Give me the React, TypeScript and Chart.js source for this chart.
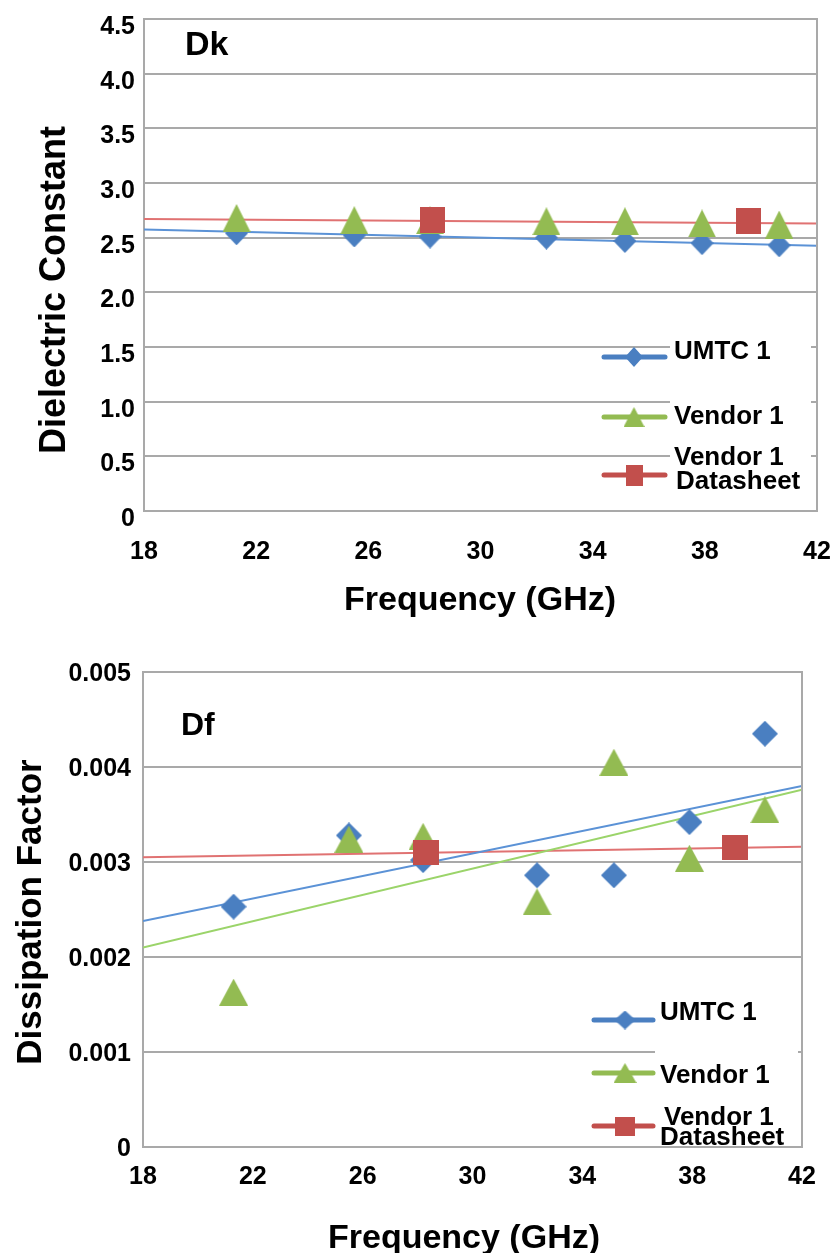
import React, { useEffect, useRef } from 'react';
import { Chart, registerables } from 'chart.js';

Chart.register(...registerables);

const FONT = '"Liberation Sans", Arial, Helvetica, sans-serif';
Chart.defaults.font.family = FONT;

// ---------- data ----------
const frequencyGHz = [21.3, 25.5, 28.2, 32.35, 35.15, 37.9, 40.65];
const datasheetFrequencyGHz = [28.3, 39.55];
const trendFrequencyGHz = [18, 42];

const dkUmtc1 = [2.54, 2.52, 2.51, 2.5, 2.47, 2.45, 2.43];
const dkVendor1 = [2.68, 2.66, 2.66, 2.65, 2.65, 2.63, 2.62];
const dkDatasheet = [2.66, 2.65];
const dkTrendUmtc1 = [2.575, 2.425];
const dkTrendDatasheet = [2.67, 2.63];

const dfUmtc1 = [0.00253, 0.00328, 0.00302, 0.00286, 0.00286, 0.00342, 0.00435];
const dfVendor1 = [0.00163, 0.00324, 0.00327, 0.00258, 0.00405, 0.00304, 0.00355];
const dfDatasheet = [0.0031, 0.00315];
const dfTrendUmtc1 = [0.00238, 0.0038];
const dfTrendVendor1 = [0.0021, 0.00376];
const dfTrendDatasheet = [0.00305, 0.00316];

const xTickValues = [18, 22, 26, 30, 34, 38, 42];
const xTickLabels = ['18', '22', '26', '30', '34', '38', '42'];
const dkTickValues = [0, 0.5, 1, 1.5, 2, 2.5, 3, 3.5, 4, 4.5];
const dkTickLabels = ['0', '0.5', '1.0', '1.5', '2.0', '2.5', '3.0', '3.5', '4.0', '4.5'];
const dfTickValues = [0, 0.001, 0.002, 0.003, 0.004, 0.005];
const dfTickLabels = ['0', '0.001', '0.002', '0.003', '0.004', '0.005'];

const legendLabels = [['UMTC 1'], ['Vendor 1'], ['Vendor 1', 'Datasheet']];
const seriesNames = ['UMTC 1', 'Vendor 1', 'Vendor 1 Datasheet'];

// ---------- styles ----------
const GRID = '#a9a9a9';
const BLUE = '#4a7fc1';
const GREEN = '#93bb52';
const RED = '#c24f4c';
const BLUE_LINE = '#5b92d6';
const GREEN_LINE = '#9bd46a';
const RED_LINE = '#e07272';

type Shape = 'diamond' | 'triangle' | 'square';

function makeMarker(shape: Shape, w: number, h: number, color: string): HTMLCanvasElement {
  const c = document.createElement('canvas');
  c.width = w;
  c.height = h;
  const ctx = c.getContext('2d')!;
  ctx.fillStyle = color;
  ctx.beginPath();
  if (shape === 'diamond') {
    ctx.moveTo(w / 2, 0);
    ctx.lineTo(w, h / 2);
    ctx.lineTo(w / 2, h);
    ctx.lineTo(0, h / 2);
  } else if (shape === 'triangle') {
    ctx.moveTo(w / 2, 0);
    ctx.lineTo(w, h);
    ctx.lineTo(0, h);
  } else {
    ctx.rect(0, 0, w, h);
  }
  ctx.closePath();
  ctx.fill();
  return c;
}

const pts = (xs: number[], ys: number[]) => xs.map((x, i) => ({ x, y: ys[i] }));

interface PanelSpec {
  top: number;
  height: number;
  padTop: number;
  padRight: number;
  yWidth: number;
  xHeight: number;
  yMax: number;
  yTickValues: number[];
  yTickLabels: string[];
  yTickSize: number;
  yTickPad: number;
  yLabelOffset: number;
  xTickPad: number;
  markers: { diamond: [number, number]; triangle: [number, number]; square: [number, number] };
  umtc: number[];
  vendor: number[];
  datasheet: number[];
  trends: { values: number[]; color: string }[];
  label: { text: string; x: number; y: number; size: number };
  yTitle: { text: string; x: number; y: number; size: number };
  xTitle: { text: string; x: number; y: number; size: number };
  box: { x: number; y: number; w: number; h: number };
  legend: {
    lineX0: number;
    lineX1: number;
    markerX: number;
    size: number;
    rows: { lineY: number; textX: number[]; textY: number[] }[];
    markerSizes: [number, number][];
  };
}

function makeOverlay(spec: PanelSpec) {
  const colors = [BLUE, GREEN, RED];
  const shapes: Shape[] = ['diamond', 'triangle', 'square'];
  const legendMarkers = shapes.map((s, i) =>
    makeMarker(s, spec.legend.markerSizes[i][0], spec.legend.markerSizes[i][1], colors[i])
  );
  return {
    id: 'overlay',
    afterDraw(chart: any) {
      const ctx: CanvasRenderingContext2D = chart.ctx;
      const a = chart.chartArea;
      ctx.save();
      // legend background
      ctx.fillStyle = '#ffffff';
      ctx.fillRect(spec.box.x, spec.box.y, spec.box.w, spec.box.h);
      // right border of plot area
      ctx.strokeStyle = GRID;
      ctx.lineWidth = 2;
      ctx.beginPath();
      ctx.moveTo(a.right, a.top - 1);
      ctx.lineTo(a.right, a.bottom + 1);
      ctx.stroke();
      // legend
      const lg = spec.legend;
      lg.rows.forEach((r, i) => {
        ctx.strokeStyle = colors[i];
        ctx.lineWidth = 5;
        ctx.lineCap = 'round';
        ctx.beginPath();
        ctx.moveTo(lg.lineX0, r.lineY);
        ctx.lineTo(lg.lineX1, r.lineY);
        ctx.stroke();
        const m = legendMarkers[i];
        ctx.drawImage(m, lg.markerX - m.width / 2, r.lineY - m.height / 2);
        ctx.fillStyle = '#000';
        ctx.font = `bold ${lg.size}px ${FONT}`;
        ctx.textAlign = 'left';
        ctx.textBaseline = 'middle';
        legendLabels[i].forEach((t, j) => ctx.fillText(t, r.textX[j], r.textY[j]));
      });
      // panel label
      ctx.fillStyle = '#000';
      ctx.font = `bold ${spec.label.size}px ${FONT}`;
      ctx.textAlign = 'left';
      ctx.textBaseline = 'middle';
      ctx.fillText(spec.label.text, spec.label.x, spec.label.y);
      // x title
      ctx.font = `bold ${spec.xTitle.size}px ${FONT}`;
      ctx.textAlign = 'center';
      ctx.textBaseline = 'alphabetic';
      ctx.fillText(spec.xTitle.text, spec.xTitle.x, spec.xTitle.y);
      // y title
      ctx.save();
      ctx.translate(spec.yTitle.x, spec.yTitle.y);
      ctx.rotate(-Math.PI / 2);
      ctx.font = `bold ${spec.yTitle.size}px ${FONT}`;
      ctx.textAlign = 'center';
      ctx.textBaseline = 'alphabetic';
      ctx.fillText(spec.yTitle.text, 0, 0);
      ctx.restore();
      ctx.restore();
    },
  };
}

function buildConfig(spec: PanelSpec): any {
  const dia = makeMarker('diamond', spec.markers.diamond[0], spec.markers.diamond[1], BLUE);
  const tri = makeMarker('triangle', spec.markers.triangle[0], spec.markers.triangle[1], GREEN);
  const sq = makeMarker('square', spec.markers.square[0], spec.markers.square[1], RED);
  const datasets: any[] = [
    { label: seriesNames[2], data: pts(datasheetFrequencyGHz, spec.datasheet), pointStyle: sq, pointRadius: 12, order: 0 },
    { label: seriesNames[1], data: pts(frequencyGHz, spec.vendor), pointStyle: tri, pointRadius: 12, order: 1 },
    { label: seriesNames[0], data: pts(frequencyGHz, spec.umtc), pointStyle: dia, pointRadius: 12, order: 2 },
  ];
  spec.trends.forEach((t, i) => {
    datasets.push({
      label: 'trend ' + i,
      data: pts(trendFrequencyGHz, t.values),
      showLine: true,
      pointRadius: 0,
      borderColor: t.color,
      borderWidth: 2,
      order: 3 + i,
    });
  });
  return {
    type: 'scatter',
    data: { datasets },
    options: {
      responsive: false,
      animation: false,
      events: [],
      layout: { padding: { top: spec.padTop, right: spec.padRight, left: 0, bottom: 0 } },
      plugins: { legend: { display: false }, tooltip: { enabled: false } },
      scales: {
        x: {
          type: 'linear',
          min: 18,
          max: 42,
          afterBuildTicks: (s: any) => {
            s.ticks = xTickValues.map((v) => ({ value: v }));
          },
          afterFit: (s: any) => {
            s.height = spec.xHeight;
            s.paddingLeft = 0;
            s.paddingRight = 0;
          },
          ticks: {
            callback: (_v: any, i: number) => xTickLabels[i],
            font: { size: 25, weight: 'bold', family: FONT },
            color: '#000',
            padding: spec.xTickPad,
            maxRotation: 0,
            autoSkip: false,
          },
          grid: { display: false, drawTicks: false },
          border: { display: true, color: GRID, width: 2 },
        },
        y: {
          type: 'linear',
          min: 0,
          max: spec.yMax,
          afterBuildTicks: (s: any) => {
            s.ticks = spec.yTickValues.map((v) => ({ value: v }));
          },
          afterFit: (s: any) => {
            s.width = spec.yWidth;
            s.paddingTop = 0;
            s.paddingBottom = 0;
          },
          ticks: {
            callback: (_v: any, i: number) => spec.yTickLabels[i],
            font: { size: spec.yTickSize, weight: 'bold', family: FONT },
            color: '#000',
            padding: spec.yTickPad,
            labelOffset: spec.yLabelOffset,
            autoSkip: false,
          },
          grid: { color: GRID, lineWidth: 2, drawTicks: false },
          border: { display: true, color: GRID, width: 2 },
        },
      },
    },
    plugins: [makeOverlay(spec)],
  };
}

const dkSpec: PanelSpec = {
  top: 0,
  height: 630,
  padTop: 19,
  padRight: 16,
  yWidth: 144,
  xHeight: 119,
  yMax: 4.5,
  yTickValues: dkTickValues,
  yTickLabels: dkTickLabels,
  yTickSize: 25,
  yTickPad: 9,
  yLabelOffset: 8,
  xTickPad: 26,
  markers: { diamond: [23, 24], triangle: [28, 28], square: [25, 26] },
  umtc: dkUmtc1,
  vendor: dkVendor1,
  datasheet: dkDatasheet,
  trends: [
    { values: dkTrendUmtc1, color: BLUE_LINE },
    { values: dkTrendDatasheet, color: RED_LINE },
  ],
  label: { text: 'Dk', x: 185, y: 46, size: 34 },
  yTitle: { text: 'Dielectric Constant', x: 65, y: 290, size: 36 },
  xTitle: { text: 'Frequency (GHz)', x: 480, y: 610, size: 34 },
  box: { x: 670, y: 322, w: 141, h: 176 },
  legend: {
    lineX0: 604,
    lineX1: 665,
    markerX: 634,
    size: 26,
    rows: [
      { lineY: 357, textX: [674], textY: [352] },
      { lineY: 417, textX: [674], textY: [417] },
      { lineY: 475, textX: [674, 676], textY: [458, 482] },
    ],
    markerSizes: [
      [18, 20],
      [21, 20],
      [17, 21],
    ],
  },
};

const dfSpec: PanelSpec = {
  top: 630,
  height: 623,
  padTop: 42,
  padRight: 31,
  yWidth: 143,
  xHeight: 106,
  yMax: 0.005,
  yTickValues: dfTickValues,
  yTickLabels: dfTickLabels,
  yTickSize: 25,
  yTickPad: 12,
  yLabelOffset: 2,
  xTickPad: 15,
  markers: { diamond: [26, 26], triangle: [29, 27], square: [26, 25] },
  umtc: dfUmtc1,
  vendor: dfVendor1,
  datasheet: dfDatasheet,
  trends: [
    { values: dfTrendUmtc1, color: BLUE_LINE },
    { values: dfTrendVendor1, color: GREEN_LINE },
    { values: dfTrendDatasheet, color: RED_LINE },
  ],
  label: { text: 'Df', x: 181, y: 96, size: 32 },
  yTitle: { text: 'Dissipation Factor', x: 41, y: 282, size: 35 },
  xTitle: { text: 'Frequency (GHz)', x: 464, y: 618, size: 34 },
  box: { x: 655, y: 345, w: 143, h: 166 },
  legend: {
    lineX0: 594,
    lineX1: 653,
    markerX: 625,
    size: 26,
    rows: [
      { lineY: 390, textX: [660], textY: [383] },
      { lineY: 443, textX: [660], textY: [446] },
      { lineY: 496, textX: [664, 660], textY: [488, 508] },
    ],
    markerSizes: [
      [21, 19],
      [23, 20],
      [20, 19],
    ],
  },
};

function Panel({ spec }: { spec: PanelSpec }) {
  const ref = useRef<HTMLCanvasElement>(null);
  useEffect(() => {
    const chart = new Chart(ref.current!, buildConfig(spec));
    return () => chart.destroy();
  }, [spec]);
  return (
    <canvas
      ref={ref}
      width={833}
      height={spec.height}
      style={{ position: 'absolute', left: 0, top: spec.top, width: 833, height: spec.height }}
    />
  );
}

export default function App() {
  return (
    <div style={{ position: 'absolute', left: 0, top: 0, width: 833, height: 1253, background: '#fff', overflow: 'hidden' }}>
      <Panel spec={dkSpec} />
      <Panel spec={dfSpec} />
    </div>
  );
}
